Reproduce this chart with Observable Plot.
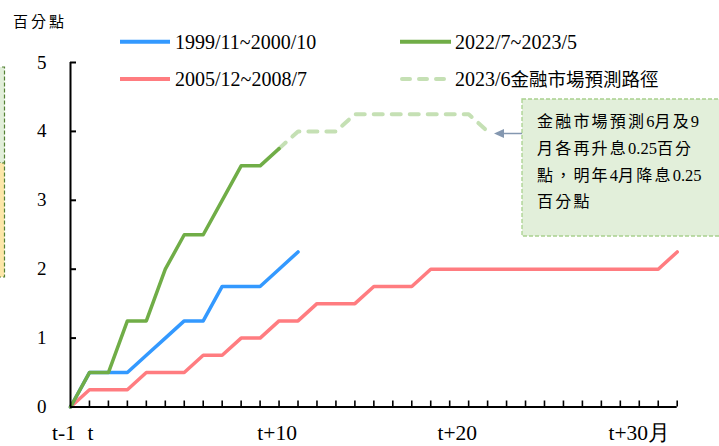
<!DOCTYPE html>
<html>
<head>
<meta charset="utf-8">
<script src="https://cdn.jsdelivr.net/npm/d3@7"></script>
<script src="https://cdn.jsdelivr.net/npm/@observablehq/plot@0.6"></script>
<style>
  html, body { margin: 0; padding: 0; background: #fff; }
  #chart svg { display: block; }
</style>
</head>
<body>
<div id="chart"></div>
<script>
// ---- data (month offset index: 0 = t-1, 1 = t, ...) ----
const blueValues = [0, 0.5, 0.5, 0.5, 0.75, 1.0, 1.25, 1.25, 1.75, 1.75, 1.75, 2.0, 2.25];
const greenValues = [0, 0.5, 0.5, 1.25, 1.25, 2.0, 2.5, 2.5, 3.0, 3.5, 3.5, 3.75];
const forecastStart = 11;
const forecastValues = [3.75, 4.0, 4.0, 4.0, 4.25, 4.25, 4.25, 4.25, 4.25, 4.25, 4.25, 4.0];
const redValues = [0, 0.25, 0.25, 0.25, 0.5, 0.5, 0.5, 0.75, 0.75, 1.0, 1.0, 1.25, 1.25, 1.5, 1.5, 1.5,
  1.75, 1.75, 1.75, 2.0, 2.0, 2.0, 2.0, 2.0, 2.0, 2.0, 2.0, 2.0, 2.0, 2.0, 2.0, 2.0, 2.25];
const seriesNames = ["1999/11~2000/10", "2005/12~2008/7", "2022/7~2023/5", "2023/6金融市場預測路徑"];
const yTicks = [0, 1, 2, 3, 4, 5];
const xTickLabels = ["t-1", "t", "t+10", "t+20", "t+30月"];
const xTickLabelPos = [-0.35, 1.05, 10.9, 20.4, 30];
const xTickMarks = d3.range(1, 33);
const yUnit = "百分點";
const noteLines = ["金融市場預測6月及9", "月各再升息0.25百分", "點，明年4月降息0.25", "百分點"];

const toRows = (vals, start = 0) => vals.map((v, i) => ({x: start + i, y: v}));
const blue = toRows(blueValues), green = toRows(greenValues),
      red = toRows(redValues), forecast = toRows(forecastValues, forecastStart);

const W = 719, H = 446;
const mL = 70, mR = 42.3, mT = 62, mB = 39.5;
const frameW = W - mL - mR, frameH = H - mT - mB;
const labelMap = new Map(xTickLabelPos.map((p, i) => [p, xTickLabels[i]]));

const C = {blue: "#3399ff", red: "#ff7c80", green: "#70ad47", light: "#c5e0b4"};
const serif = "'Liberation Serif', 'Times New Roman', serif";
const cjk = "'Noto Sans CJK TC', sans-serif";

const plot = Plot.plot({
  width: W, height: H,
  marginLeft: mL, marginRight: mR, marginTop: mT, marginBottom: mB,
  x: {domain: [0, 32], label: null},
  y: {domain: [0, 5], label: null},
  style: `font-family: ${serif}; color: #000; background: #fff; overflow: visible;`,
  marks: [
    Plot.axisY({ticks: yTicks, tickSize: 0, tickPadding: 24, fontSize: 19, fontFamily: serif, tickFormat: d => String(d), label: null}),
    Plot.axisX({ticks: xTickLabelPos, tickSize: 0, tickPadding: 18, fontSize: 21.5, fontFamily: serif, tickFormat: d => labelMap.get(d), label: null}),
    Plot.ruleY(yTicks.slice(1), {stroke: "#000", strokeWidth: 2, insetRight: frameW - 6}),
    Plot.ruleX(xTickMarks, {stroke: "#000", strokeWidth: 1.6, insetTop: frameH - 6}),
    Plot.line(red, {x: "x", y: "y", stroke: C.red, strokeWidth: 3.5}),
    Plot.line(blue, {x: "x", y: "y", stroke: C.blue, strokeWidth: 3.5}),
    Plot.line(forecast, {x: "x", y: "y", stroke: C.light, strokeWidth: 4, strokeDasharray: "9,9", strokeLinecap: "round"}),
    Plot.line(green, {x: "x", y: "y", stroke: C.green, strokeWidth: 3.5}),
    Plot.ruleX([0], {stroke: "#000", strokeWidth: 2}),
    Plot.ruleY([0], {stroke: "#000", strokeWidth: 2})
  ]
});
document.getElementById("chart").appendChild(plot);

const svg = d3.select(plot);
svg.selectAll("text").attr("font-family", serif);

// split a string into Latin / CJK runs as tspans
function runs(textSel, s, cjkSize, cjkSpacing) {
  const parts = s.match(/[\x00-\x7F]+|[^\x00-\x7F]+/g) || [];
  parts.forEach(p => {
    const ascii = /^[\x00-\x7F]+$/.test(p);
    const ts = textSel.append("tspan").attr("font-family", ascii ? serif : cjk).text(p);
    if (!ascii && cjkSize) ts.attr("font-size", cjkSize);
    if (!ascii && cjkSpacing) ts.attr("letter-spacing", cjkSpacing);
  });
}

// left clipped boxes
const left = svg.append("g");
left.append("rect").attr("x", -10).attr("y", 67).attr("width", 14.5).attr("height", 96)
  .attr("fill", "#e2efda").attr("stroke", "#548235").attr("stroke-width", 1.2).attr("stroke-dasharray", "4,2");
left.append("rect").attr("x", -10).attr("y", 163).attr("width", 14.5).attr("height", 114)
  .attr("fill", "#fde7a9").attr("stroke", "#548235").attr("stroke-width", 1.2).attr("stroke-dasharray", "4,2");

// unit label
svg.append("text").attr("x", 13).attr("y", 27).attr("text-anchor", "start")
  .attr("font-family", cjk)
  .attr("font-size", 15).attr("letter-spacing", 3).attr("fill", "#000").text(yUnit);

// legend
const lg = svg.append("g").attr("font-family", serif).attr("font-size", 20).attr("fill", "#000").attr("text-anchor", "start");
const items = [
  {x: 120, y: 41.7, len: 50, color: C.blue, dash: null, name: seriesNames[0], tx: 175},
  {x: 120, y: 79, len: 50, color: C.red, dash: null, name: seriesNames[1], tx: 175},
  {x: 400, y: 41.7, len: 51, color: C.green, dash: null, name: seriesNames[2], tx: 455},
  {x: 402, y: 79, len: 44, color: C.light, dash: "8,9", name: seriesNames[3], tx: 455}
];
items.forEach(it => {
  lg.append("line").attr("x1", it.x).attr("x2", it.x + it.len).attr("y1", it.y).attr("y2", it.y)
    .attr("stroke", it.color).attr("stroke-width", 4).attr("stroke-dasharray", it.dash)
    .attr("stroke-linecap", it.dash ? "round" : "butt");
  const t = lg.append("text").attr("x", it.tx).attr("y", it.y + 7);
  runs(t, it.name, 18.5);
});

// annotation box
const ann = svg.append("g").attr("text-anchor", "start");
ann.append("rect").attr("x", 522).attr("y", 99).attr("width", 210).attr("height", 137)
  .attr("fill", "#e2efda").attr("stroke", "#a9d18e").attr("stroke-width", 1.3).attr("stroke-dasharray", "4,2");
const baselines = [127, 153.5, 180.5, 207];
noteLines.forEach((s, i) => {
  const t = ann.append("text").attr("x", 537).attr("y", baselines[i])
    .attr("font-size", 16.5).attr("fill", "#000");
  runs(t, s, 16, 2.2);
});
ann.append("line").attr("x1", 522).attr("x2", 502).attr("y1", 133.5).attr("y2", 133.5)
  .attr("stroke", "#8497b0").attr("stroke-width", 1.5);
ann.append("path").attr("d", "M494,133.5 L504,129 L504,138 Z").attr("fill", "#8497b0");
</script>
</body>
</html>
